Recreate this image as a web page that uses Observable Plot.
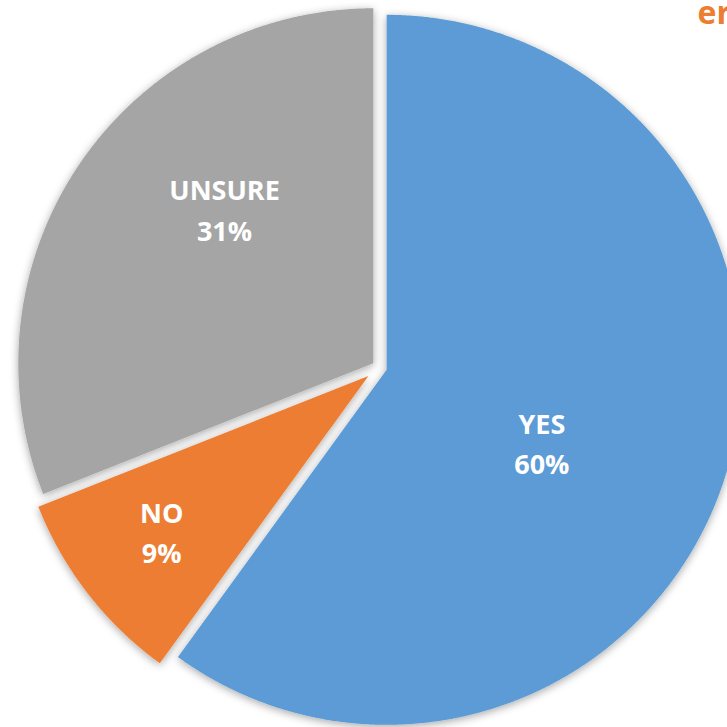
<!DOCTYPE html>
<html>
<head>
<meta charset="utf-8">
<script src="https://cdn.jsdelivr.net/npm/d3@7"></script>
<script src="https://cdn.jsdelivr.net/npm/@observablehq/plot@0.6"></script>
<style>
  html, body { margin: 0; padding: 0; background: #ffffff; }
  #chart { width: 727px; height: 727px; overflow: hidden; }
</style>
</head>
<body>
<div id="chart"></div>
<script>
// ---- data ----
const categories = ["YES", "NO", "UNSURE"];
const values = [60, 9, 31];
const colors = ["#5B9BD5", "#ED7D31", "#A5A5A5"];
const titleFragment = "er";

// ---- layout (not data) ----
const W = 727, H = 727;
const CX = 379, CY = 367, R = 355;           // pie centre and radius in pixels
const explode = {YES: 7.5, NO: 14, UNSURE: 7.5}; // explosion in pixels
const labelPlace = {                          // label angle nudge (deg) and radial fraction
  YES: {da: 7.9, f: 0.486},
  NO: {da: 0.4, f: 0.733},
  UNSURE: {da: 11.4, f: 0.599}
};

const data = categories.map((c, i) => ({category: c, value: values[i]}));
const total = d3.sum(values);
const arcs = d3.pie().sort(null).value(d => d.value)(data);

const slicePts = [];
const labels = [];
arcs.forEach(p => {
  const c = p.data.category;
  const mid = (p.startAngle + p.endAngle) / 2;
  const e = explode[c] / R;
  const ox = e * Math.sin(mid), oy = e * Math.cos(mid);
  slicePts.push({category: c, x: ox, y: oy});
  const n = Math.max(2, Math.ceil((p.endAngle - p.startAngle) / (Math.PI / 720)));
  for (let i = 0; i <= n; i++) {
    const a = p.startAngle + (p.endAngle - p.startAngle) * i / n;
    slicePts.push({category: c, x: ox + Math.sin(a), y: oy + Math.cos(a)});
  }
  slicePts.push({category: c, x: ox, y: oy});
  const lp = labelPlace[c];
  const la = mid + lp.da * Math.PI / 180;
  labels.push({
    category: c,
    text: c + "\n" + Math.round(100 * p.data.value / total) + "%",
    x: ox + lp.f * Math.sin(la),
    y: oy + lp.f * Math.cos(la)
  });
});

const chart = Plot.plot({
  width: W,
  height: H,
  margin: 0,
  style: {background: "#ffffff", overflow: "hidden"},
  x: {domain: [-CX / R, (W - CX) / R], axis: null},
  y: {domain: [-(H - CY) / R, CY / R], axis: null},
  color: {domain: categories, range: colors},
  marks: [
    Plot.line(slicePts, {x: "x", y: "y", z: "category", fill: "category", stroke: null, curve: "linear"}),
    Plot.text(labels, {
      x: "x", y: "y", text: "text", dy: -4,
      fill: "#ffffff", fontSize: 27, fontWeight: "bold",
      fontFamily: "'Open Sans', sans-serif",
      lineHeight: 1.5, lineAnchor: "middle"
    }),
    Plot.text([titleFragment], {
      frameAnchor: "top-left", dx: 697, dy: 1,
      text: d => d, textAnchor: "start", lineAnchor: "top",
      fill: "#ED7D31", fontSize: 32, fontWeight: "bold",
      fontFamily: "'Open Sans', sans-serif"
    })
  ]
});

// soft shadow around the slices
const ns = "http://www.w3.org/2000/svg";
const defs = document.createElementNS(ns, "defs");
defs.innerHTML = '<filter id="pieShadow" x="-10%" y="-10%" width="120%" height="120%">' +
  '<feDropShadow dx="0" dy="2" stdDeviation="4" flood-color="#000000" flood-opacity="0.35"/></filter>';
chart.insertBefore(defs, chart.firstChild);
const lineGroup = chart.querySelector('g[aria-label="line"]');
if (lineGroup) lineGroup.querySelectorAll("path").forEach(p => p.setAttribute("filter", "url(#pieShadow)"));

document.getElementById("chart").appendChild(chart);
</script>
</body>
</html>
